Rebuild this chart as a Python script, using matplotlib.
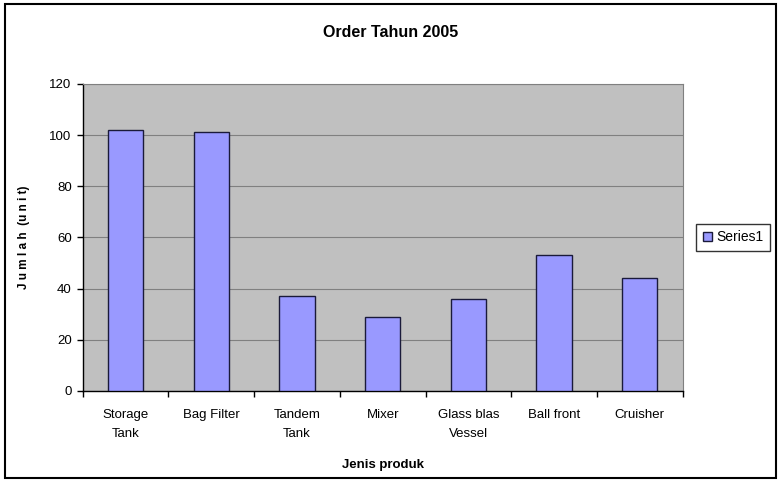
import matplotlib
matplotlib.use('Agg')
import matplotlib.pyplot as plt
import numpy as np
from matplotlib.patches import Rectangle

plt.rcParams['font.family'] = ['Liberation Sans', 'DejaVu Sans']

# data
produk = ['Storage\nTank', 'Bag Filter', 'Tandem\nTank', 'Mixer', 'Glass blas\nVessel', 'Ball front', 'Cruisher']
jumlah = [102, 101, 37, 29, 36, 53, 44]
y_ticks = [0, 20, 40, 60, 80, 100, 120]

fig = plt.figure(figsize=(7.81, 4.82), dpi=100)
ax = fig.add_axes([0.106, 0.189, 0.768, 0.637])

x = np.arange(len(produk))
ax.bar(x, jumlah, width=0.41, color='#9999ff', edgecolor='#1a1a3a', linewidth=1.0,
       label='Series1', zorder=3)

ax.set_facecolor('#c0c0c0')
ax.set_ylim(0, 120)
ax.set_xlim(-0.5, len(produk) - 0.5)
ax.set_yticks(y_ticks)
ax.yaxis.grid(True, color='#808080', linewidth=0.8, zorder=0)

ax.set_xticks(x)
ax.set_xticklabels(produk, fontsize=9.5, linespacing=1.75, va='top')
ax.tick_params(axis='x', length=0, pad=13)
ax.set_xticks(np.arange(len(produk) + 1) - 0.5, minor=True)
ax.tick_params(axis='x', which='minor', length=4, width=1, direction='out')
ax.tick_params(axis='y', length=4, width=1, labelsize=9.5, pad=4)

for s in ['top', 'right']:
    ax.spines[s].set_color('#808080')
    ax.spines[s].set_linewidth(0.8)
for s in ['left', 'bottom']:
    ax.spines[s].set_color('black')
    ax.spines[s].set_linewidth(1.0)

ax.set_xlabel('Jenis produk', fontsize=9.5, fontweight='bold', labelpad=14)
ax.set_ylabel('J u m l a h  (u n i t)', fontsize=8.5, fontweight='bold', labelpad=14)
fig.text(0.5, 0.932, 'Order Tahun 2005', ha='center', va='center', fontsize=11.5, fontweight='bold')

leg = ax.legend(loc='center left', bbox_to_anchor=(1.023, 0.5), fontsize=10, frameon=True,
                fancybox=False, edgecolor='black', handlelength=0.7, handleheight=0.7,
                handletextpad=0.3, borderpad=0.45, borderaxespad=0)
leg.get_frame().set_linewidth(1.0)

# outer chart border
fig.patches.append(Rectangle((0.006, 0.008), 0.988, 0.984, transform=fig.transFigure,
                             fill=False, edgecolor='black', linewidth=1.5))

fig.savefig('out.png', dpi=100)
